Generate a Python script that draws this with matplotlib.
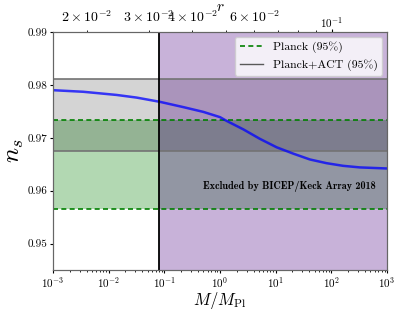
import matplotlib
matplotlib.use("Agg")
import matplotlib.pyplot as plt
from matplotlib.lines import Line2D

plt.rcParams['font.family'] = 'serif'
plt.rcParams['font.serif'] = ['cmr10']
plt.rcParams['mathtext.fontset'] = 'cm'
plt.rcParams['axes.formatter.use_mathtext'] = True
plt.rcParams['axes.unicode_minus'] = False

# Data
M_vals = [1e-3, 3.5e-3, 1.39e-2, 3.18e-2, 8.3e-2, 0.219, 0.50, 1.0, 1.31, 2.61,
          5.2, 10.4, 20.7, 41.1, 81.8, 162, 324, 977]
ns_vals = [0.9790, 0.9787, 0.9781, 0.9776, 0.9768, 0.9758, 0.9749, 0.9739, 0.9732, 0.9716,
           0.9698, 0.9682, 0.9670, 0.9659, 0.9652, 0.9647, 0.9644, 0.9642]

planck_ns = [0.9565, 0.9733]
act_ns = [0.9675, 0.9811]
M_bound = 0.081
r_range = [0.016, 0.1436]
y_ticks = [0.95, 0.96, 0.97, 0.98, 0.99]

fig = plt.figure(figsize=(3.97, 3.09), dpi=100)
ax = fig.add_axes([0.1335, 0.1262, 0.8415, 0.7702])
ax.set_xscale('log')
ax.set_xlim(1e-3, 1e3)
ax.set_ylim(0.945, 0.99)
ax.set_yticks(y_ticks)
ax.set_yticklabels([f"{v:.2f}" for v in y_ticks])

ax.axhspan(planck_ns[0], planck_ns[1], color='green', alpha=0.3, lw=0)
for v in planck_ns:
    ax.axhline(v, color='green', ls='--', lw=1.2, dashes=(3, 2))
ax.axhspan(act_ns[0], act_ns[1], color='k', alpha=0.17, lw=0)
for v in act_ns:
    ax.axhline(v, color='0.45', lw=1.2)

ax.plot(M_vals, ns_vals, color='blue', lw=1.8, alpha=0.75)

ax.axvspan(M_bound, 1e3, color='indigo', alpha=0.3, lw=0)
ax.axvline(M_bound, color='k', lw=1.3)

ax.text(17.8, 0.9608, 'Excluded by BICEP/Keck Array 2018', family='cmb10',
        fontsize=7.3, ha='center', va='center')

ax.set_xlabel(r'$M/M_{\rm Pl}$', fontsize=12, labelpad=-0.5)
ax.set_ylabel(r'$n_s$', fontsize=18, labelpad=1)
ax.tick_params(labelsize=8, length=2.5, pad=1.5)
ax.tick_params(which='minor', length=1.5)

for s in ax.spines.values():
    s.set_color('0.4')

handles = [Line2D([], [], color='green', ls='--', lw=1.2, dashes=(3, 2)),
           Line2D([], [], color='0.35', lw=1.0)]
leg = ax.legend(handles, ['Planck (95%)', 'Planck+ACT (95%)'], loc='upper right',
                fontsize=8.5, framealpha=0.8, borderaxespad=0.4)

ax2 = ax.twiny()
ax2.set_xscale('log')
ax2.set_xlim(*r_range)
ax2.set_xlabel(r'$r$', fontsize=11, labelpad=-1)
ax2.tick_params(labelsize=8, length=2.5, pad=-1)
ax2.tick_params(which='minor', length=1.5)
for s in ax2.spines.values():
    s.set_color('0.4')

fig.savefig('out.png', dpi=100)
